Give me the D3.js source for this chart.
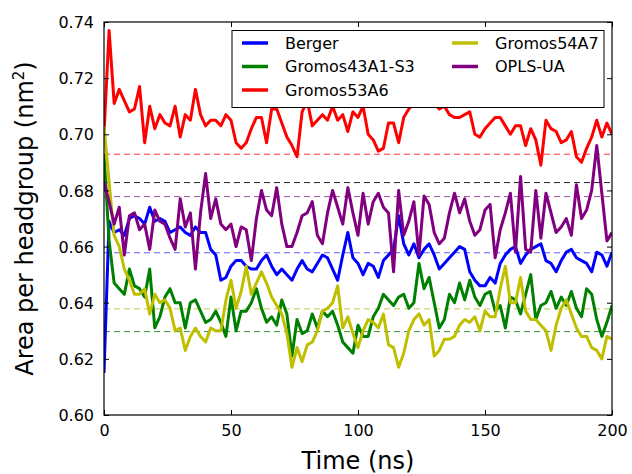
<!DOCTYPE html>
<html>
  <head>
    <meta http-equiv="Content-Type" content="text/html;charset=utf-8"/>
    <script src="https://d3js.org/d3.v7.min.js"></script>
    <style type="text/css">
    body { margin: 0; background: #fff; }
    text { font-family: "DejaVu Sans", sans-serif; }
    .frame { fill: none; stroke: #000; stroke-width: 1.2px; }
    .tick-mark { stroke: #000; stroke-width: 1px; }
    .series { fill: none; stroke-width: 3px; stroke-linejoin: round; }
    .mean-line { stroke-width: 1px; stroke-dasharray: 6,4; }
    </style>
  </head>
  <body>
    <script type="text/javascript">
      // sample times (ns), one point every 2 ns
      var time = d3.range(0, 201, 2);

      var seriesNames = ["Berger", "Gromos43A1-S3", "Gromos53A6", "Gromos54A7", "OPLS-UA"];

      var berger = [0.615,0.669,0.665,0.666,0.664,0.670,0.671,0.670,0.668,0.674,
        0.669,0.670,0.669,0.665,0.666,0.667,0.665,0.664,0.667,0.665,
        0.665,0.659,0.657,0.648,0.649,0.653,0.655,0.655,0.653,0.652,
        0.652,0.655,0.657,0.653,0.650,0.652,0.650,0.648,0.652,0.655,
        0.652,0.651,0.654,0.657,0.656,0.652,0.648,0.657,0.665,0.656,
        0.654,0.650,0.654,0.653,0.649,0.655,0.657,0.659,0.671,0.661,
        0.657,0.661,0.656,0.659,0.661,0.657,0.652,0.654,0.656,0.658,
        0.660,0.659,0.651,0.648,0.646,0.646,0.649,0.647,0.654,0.657,
        0.659,0.660,0.654,0.657,0.659,0.660,0.661,0.655,0.654,0.651,
        0.655,0.658,0.659,0.656,0.655,0.654,0.651,0.658,0.657,0.653,0.658];

      var gromos43a1 = [0.693,0.662,0.647,0.645,0.643,0.652,0.646,0.645,0.642,0.652,
        0.631,0.635,0.642,0.645,0.640,0.640,0.631,0.640,0.641,0.637,
        0.633,0.634,0.637,0.633,0.628,0.642,0.630,0.637,0.637,0.640,
        0.645,0.638,0.633,0.635,0.632,0.641,0.636,0.621,0.634,0.629,
        0.630,0.636,0.631,0.637,0.635,0.637,0.632,0.626,0.624,0.622,
        0.632,0.628,0.628,0.635,0.638,0.643,0.641,0.639,0.642,0.643,
        0.638,0.640,0.654,0.645,0.649,0.640,0.631,0.634,0.643,0.640,
        0.647,0.641,0.648,0.642,0.639,0.643,0.644,0.637,0.639,0.631,
        0.642,0.641,0.636,0.643,0.650,0.634,0.639,0.640,0.644,0.638,
        0.642,0.639,0.644,0.638,0.635,0.645,0.643,0.634,0.628,0.633,0.639];

      var gromos53a6 = [0.700,0.737,0.711,0.716,0.712,0.708,0.709,0.717,0.697,0.710,
        0.702,0.707,0.704,0.703,0.710,0.699,0.707,0.705,0.716,0.707,
        0.703,0.705,0.705,0.703,0.707,0.705,0.697,0.695,0.697,0.702,
        0.706,0.706,0.697,0.709,0.709,0.704,0.699,0.696,0.692,0.708,
        0.712,0.703,0.705,0.707,0.705,0.710,0.705,0.707,0.701,0.708,
        0.706,0.710,0.700,0.698,0.694,0.695,0.704,0.704,0.697,0.706,
        0.709,0.711,0.713,0.712,0.714,0.711,0.709,0.710,0.707,0.706,
        0.706,0.707,0.708,0.700,0.699,0.702,0.704,0.706,0.706,0.703,
        0.700,0.703,0.703,0.696,0.702,0.698,0.689,0.705,0.702,0.701,
        0.697,0.698,0.701,0.692,0.690,0.695,0.699,0.705,0.699,0.704,0.700];

      var gromos54a7 = [0.703,0.683,0.664,0.660,0.652,0.648,0.643,0.643,0.645,0.636,
        0.643,0.640,0.641,0.638,0.630,0.631,0.623,0.628,0.631,0.628,
        0.626,0.631,0.630,0.630,0.641,0.648,0.638,0.644,0.653,0.643,
        0.647,0.651,0.647,0.642,0.639,0.636,0.629,0.617,0.624,0.619,
        0.625,0.626,0.630,0.637,0.638,0.640,0.646,0.631,0.635,0.629,
        0.624,0.630,0.634,0.633,0.631,0.636,0.625,0.624,0.617,0.622,
        0.630,0.634,0.636,0.632,0.634,0.621,0.623,0.627,0.627,0.628,
        0.632,0.634,0.633,0.635,0.630,0.637,0.635,0.635,0.645,0.653,
        0.640,0.640,0.649,0.637,0.634,0.634,0.632,0.630,0.623,0.632,
        0.638,0.641,0.636,0.631,0.628,0.628,0.624,0.623,0.620,0.628,0.627];

      var oplsUa = [0.683,0.676,0.668,0.674,0.657,0.671,0.672,0.666,0.668,0.659,
        0.673,0.669,0.668,0.663,0.659,0.677,0.667,0.672,0.652,0.672,
        0.686,0.670,0.677,0.668,0.666,0.668,0.660,0.667,0.666,0.655,
        0.670,0.680,0.673,0.671,0.681,0.668,0.660,0.660,0.665,0.671,
        0.672,0.676,0.664,0.661,0.672,0.680,0.674,0.668,0.681,0.672,
        0.664,0.679,0.668,0.676,0.679,0.674,0.672,0.651,0.680,0.664,
        0.669,0.676,0.657,0.678,0.675,0.665,0.661,0.663,0.672,0.679,
        0.672,0.677,0.669,0.664,0.666,0.673,0.675,0.656,0.666,0.672,
        0.679,0.658,0.685,0.659,0.658,0.680,0.663,0.679,0.672,0.665,
        0.667,0.670,0.664,0.682,0.670,0.673,0.680,0.696,0.679,0.662,0.665];

      // average values drawn as dashed reference lines
      var meanValues = [0.6929, 0.6828, 0.6778, 0.6578, 0.6378, 0.6297];

      var xTicks = [0, 50, 100, 150, 200];
      var yTicks = [0.60, 0.62, 0.64, 0.66, 0.68, 0.70, 0.72, 0.74];

      var seriesValues = [berger, gromos43a1, gromos53a6, gromos54a7, oplsUa];
      var seriesColors = ["#0000ff", "#008000", "#ff0000", "#bfbf00", "#800080"];
      var meanColors = ["#ff3030", "#222222", "#a050a0", "#6060ff", "#c8c850", "#309030"];

      var width = 632;
      var height = 474;
      var plotLeft = 104, plotRight = 612, plotTop = 22, plotBottom = 415;

      var svg = d3.select("body")
        .append("svg")
          .attr("width", width)
          .attr("height", height);

      var x = d3.scaleLinear().domain([0, 200]).range([plotLeft, plotRight]);
      var y = d3.scaleLinear().domain([0.60, 0.74]).range([plotBottom, plotTop]);

      var plot = svg.append("g");
      plot.append("clipPath").attr("id", "clip")
        .append("rect")
          .attr("x", plotLeft).attr("y", plotTop)
          .attr("width", plotRight - plotLeft).attr("height", plotBottom - plotTop);

      // dashed mean lines
      plot.selectAll("line.mean-line")
        .data(meanValues)
        .enter().append("line")
          .classed("mean-line", true)
          .attr("x1", x(0)).attr("x2", x(200))
          .attr("y1", function(d) { return y(d); })
          .attr("y2", function(d) { return y(d); })
          .style("stroke", function(d, i) { return meanColors[i]; });

      var line = d3.line()
        .x(function(d, i) { return x(time[i]); })
        .y(function(d) { return y(d); });

      plot.append("g").attr("clip-path", "url(#clip)")
        .selectAll("path.series")
        .data(seriesValues)
        .enter().append("path")
          .classed("series", true)
          .attr("d", line)
          .style("stroke", function(d, i) { return seriesColors[i]; });

      // axes with inward ticks on all four sides
      function renderAxes() {
        var bottomAxis = d3.axisBottom(x).tickValues(xTicks).tickSizeInner(-5).tickSizeOuter(0).tickPadding(9);
        var topAxis = d3.axisTop(x).tickValues(xTicks).tickSizeInner(-5).tickSizeOuter(0).tickFormat("");
        var leftAxis = d3.axisLeft(y).tickValues(yTicks).tickSizeInner(-5).tickSizeOuter(0).tickPadding(10)
          .tickFormat(d3.format(".2f"));
        var rightAxis = d3.axisRight(y).tickValues(yTicks).tickSizeInner(-5).tickSizeOuter(0).tickFormat("");

        var gb = svg.append("g").attr("transform", "translate(0," + plotBottom + ")").call(bottomAxis);
        svg.append("g").attr("transform", "translate(0," + plotTop + ")").call(topAxis);
        var gl = svg.append("g").attr("transform", "translate(" + plotLeft + ",0)").call(leftAxis);
        svg.append("g").attr("transform", "translate(" + plotRight + ",0)").call(rightAxis);

        svg.selectAll(".domain").remove();
        svg.selectAll(".tick line").attr("class", "tick-mark");
        svg.selectAll(".tick text").style("font-size", "16px").style("fill", "#000")
          .style("font-family", "'DejaVu Sans', sans-serif");
        gb.selectAll(".tick text").attr("dy", "0.75em");
        gl.selectAll(".tick text").attr("dy", "0.35em");

        svg.append("rect")
          .classed("frame", true)
          .attr("x", plotLeft).attr("y", plotTop)
          .attr("width", plotRight - plotLeft).attr("height", plotBottom - plotTop);
      }
      renderAxes();

      svg.append("text")
        .attr("x", (plotLeft + plotRight) / 2).attr("y", 469)
        .attr("text-anchor", "middle")
        .style("font-size", "24px")
        .text("Time (ns)");

      var ylab = svg.append("text")
        .attr("transform", "translate(33," + ((plotTop + plotBottom) / 2) + ") rotate(-90)")
        .attr("text-anchor", "middle")
        .style("font-size", "24px");
      ylab.append("tspan").text("Area per headgroup (nm");
      ylab.append("tspan").attr("dy", "-9").style("font-size", "15px").text("2");
      ylab.append("tspan").attr("dy", "9").text(")");

      // legend, two columns
      var legend = svg.append("g");
      legend.append("rect")
        .attr("x", 232).attr("y", 30.5)
        .attr("width", 372).attr("height", 77)
        .style("fill", "#fff").style("stroke", "#000").style("stroke-width", 1);

      var legendCols = [0, 0, 0, 1, 1];
      var legendRows = [0, 1, 2, 0, 1];
      var items = legend.selectAll("g.item")
        .data(seriesNames)
        .enter().append("g")
          .attr("transform", function(d, i) {
            return "translate(" + (242 + legendCols[i] * 210) + "," + (43 + legendRows[i] * 23.5) + ")";
          });
      items.append("line")
        .attr("x1", 0).attr("x2", 26).attr("y1", 0).attr("y2", 0)
        .style("stroke", function(d, i) { return seriesColors[i]; })
        .style("stroke-width", 3.5);
      items.append("text")
        .attr("x", 43).attr("dy", "0.36em")
        .style("font-size", "16px")
        .text(function(d) { return d; });
    </script>
  </body>
</html>
